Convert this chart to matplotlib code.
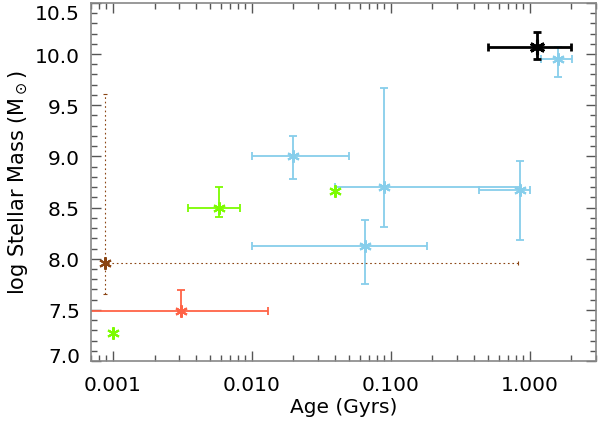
import matplotlib
matplotlib.use("Agg")
import matplotlib.pyplot as plt
import matplotlib.transforms as mtransforms
from matplotlib.ticker import FixedLocator, LogLocator, NullFormatter, MultipleLocator

# --- data (age in Gyr, log stellar mass) ---
blue_age = [1.6, 0.0199, 0.0895, 0.85, 0.0653]
blue_age_lo = [1.2, 0.0100, 0.040, 0.43, 0.0100]
blue_age_hi = [2.02, 0.050, 0.855, 1.00, 0.182]
blue_mass = [9.95, 9.00, 8.70, 8.67, 8.12]
blue_mass_lo = [9.78, 8.78, 8.31, 8.18, 7.75]
blue_mass_hi = [10.07, 9.20, 9.67, 8.95, 8.38]

black_age = [1.13]
black_age_lo = [0.50]
black_age_hi = [2.00]
black_mass = [10.07]
black_mass_lo = [9.95]
black_mass_hi = [10.22]

green_age = [0.00578]
green_age_lo = [0.00347]
green_age_hi = [0.0083]
green_mass = [8.50]
green_mass_lo = [8.405]
green_mass_hi = [8.70]

green_pts_age = [0.0398, 0.00100]
green_pts_mass = [8.665, 7.27]

red_age = [0.00311]
red_age_lo = [0.0005]
red_age_hi = [0.0131]
red_mass = [7.49]
red_mass_lo = [7.49]
red_mass_hi = [7.69]

brown_age = [0.000876]
brown_age_lo = [0.00085]
brown_age_hi = [0.82]
brown_mass = [7.955]
brown_mass_lo = [7.655]
brown_mass_hi = [9.61]

xticks = [0.001, 0.01, 0.1, 1.0]
xticklabels = ["0.001", "0.010", "0.100", "1.000"]
yticks = [7.0, 7.5, 8.0, 8.5, 9.0, 9.5, 10.0, 10.5]
yticklabels = ["7.0", "7.5", "8.0", "8.5", "9.0", "9.5", "10.0", "10.5"]

plt.rcParams['font.family'] = ['DejaVu Sans']

fig = plt.figure(figsize=(6.0, 4.27), dpi=100)
ax = fig.add_axes([0.152, 0.152, 0.841, 0.839])

ast = (6, 2, 0)


def errs(v, lo, hi):
    return [[a - b for a, b in zip(v, lo)], [c - a for a, c in zip(v, hi)]]


def draw(age, alo, ahi, m, mlo, mhi, color, lw=1.3, ms=9, ls='-', mew=1.5, cap=3):
    eb = ax.errorbar(age, m, xerr=errs(age, alo, ahi), yerr=errs(m, mlo, mhi),
                     fmt='none', ecolor=color, elinewidth=lw, capsize=cap,
                     capthick=lw, zorder=2)
    if ls != '-':
        for lc in eb[2]:
            lc.set_linestyle(ls)
    ax.plot(age, m, linestyle='none', marker=ast, markersize=ms, color=color,
            markeredgewidth=mew, zorder=3)


draw(blue_age, blue_age_lo, blue_age_hi, blue_mass, blue_mass_lo, blue_mass_hi, '#87CEEB')
draw(green_age, green_age_lo, green_age_hi, green_mass, green_mass_lo, green_mass_hi, '#7CFC00')
draw(red_age, red_age_lo, red_age_hi, red_mass, red_mass_lo, red_mass_hi, '#FF6347')
draw(brown_age, brown_age_lo, brown_age_hi, brown_mass, brown_mass_lo, brown_mass_hi,
     '#8B4513', lw=0.8, ls=(0, (1.5, 2.5)), cap=1.5)
draw(black_age, black_age_lo, black_age_hi, black_mass, black_mass_lo, black_mass_hi,
     'black', lw=2.0, ms=11, mew=2.2)
ax.plot(green_pts_age, green_pts_mass, linestyle='none', marker=ast, markersize=9,
        color='#7CFC00', markeredgewidth=1.5, zorder=3)

ax.set_xscale('log')
ax.set_xlim(0.0007, 3.0)
ax.set_ylim(7.0, 10.5)

ax.xaxis.set_major_locator(FixedLocator(xticks))
ax.set_xticklabels(xticklabels)
ax.xaxis.set_minor_locator(LogLocator(base=10, subs=range(2, 10)))
ax.xaxis.set_minor_formatter(NullFormatter())
ax.yaxis.set_major_locator(FixedLocator(yticks))
ax.set_yticklabels(yticklabels)
ax.yaxis.set_minor_locator(MultipleLocator(0.1))

ax.tick_params(which='both', direction='in', top=True, right=True,
               colors='#555555', labelcolor='black', labelsize=14.5)
ax.tick_params(which='major', length=7, width=1)
ax.tick_params(which='minor', length=4, width=1)
ax.tick_params(axis='x', which='major', pad=10)
ax.tick_params(axis='y', which='major', pad=8)
for s in ax.spines.values():
    s.set_color('#888888')
    s.set_linewidth(1.2)

# shift edge y labels inward like the reference
ylabs = ax.get_yticklabels()
ylabs[-1].set_transform(ylabs[-1].get_transform() +
                        mtransforms.ScaledTranslation(0, -9 / 100, fig.dpi_scale_trans))
ylabs[0].set_transform(ylabs[0].get_transform() +
                       mtransforms.ScaledTranslation(0, 7 / 100, fig.dpi_scale_trans))

ax.set_xlabel('Age (Gyrs)', fontsize=14.5, labelpad=2)
ax.set_ylabel(r'log Stellar Mass (M$_\odot$)', fontsize=15, labelpad=4)

fig.savefig('out.png', dpi=100)
